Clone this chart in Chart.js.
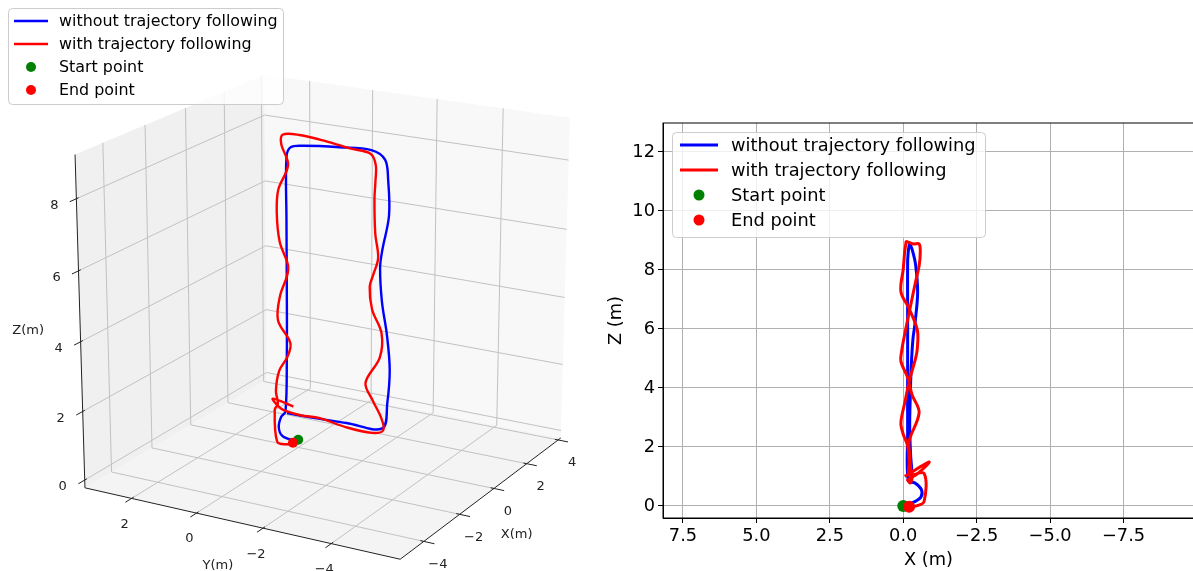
<!DOCTYPE html>
<html>
<head>
<meta charset="utf-8">
<script src="https://cdn.jsdelivr.net/npm/chart.js@4.4.1/dist/chart.umd.min.js"></script>
<style>
  html, body { margin: 0; padding: 0; background: #fff; overflow: hidden; }
  #wrap { position: relative; width: 1193px; height: 571px; overflow: hidden; }
  canvas { position: absolute; top: 0; }
  #c3d { left: 0; }
  #c2d { left: 600px; }
</style>
</head>
<body>
<div id="wrap">
  <canvas id="c3d" width="600" height="571"></canvas>
  <canvas id="c2d" width="600" height="571"></canvas>
</div>
<script>
// trajectory without trajectory following (metres)
var blueX = [0, -0.3, -0.6, -0.62, -0.4, -0.17, -0.15, -0.15, -0.15, -0.15, -0.17, -0.18, -0.2, -0.22,
  -0.3, -0.42, -0.49, -0.4, -0.33, -0.27, -0.24, -0.22, -0.25, -0.3, -0.25, -0.2, -0.17];
var blueY = [0, 0.02, 0.15, 0.25, 0.3, 0.3, 0.26, 0.25, 0.25, 0.24, 0.1, -0.3, -1.4, -2.35,
  -2.8, -2.96, -3.03, -2.79, -2.69, -2.72, -2.86, -2.94, -2.89, -2.77, -1.65, -0.6, 0.25];
var blueZ = [0, 0.1, 0.3, 0.55, 0.78, 0.85, 2.5, 4.5, 6.5, 8.3, 8.6, 8.7, 8.82, 8.88,
  8.7, 8.18, 7.23, 6.19, 5.65, 4.67, 3.72, 2.72, 1.75, 1.0, 0.92, 0.85, 0.82];

// trajectory with trajectory following (metres)
var redX = [-0.05, -0.88, -0.5, -0.15, -0.2, -0.2, -0.22, -0.25, -0.3,
  -0.25, -0.22, -0.2, -0.54, -0.3, -0.15, 0.08, 0.05, -0.05, -0.2, -0.42, -0.54, -0.58,
  -0.54, -0.35, -0.2, -0.1, -0.09, -0.05,
  0.0, 0.08, -0.2, -0.48, -0.48, -0.42, -0.22, -0.05, 0.08, 0.0, -0.15, -0.2, -0.2,
  -0.71, -0.71, -0.45, -0.2];
var redY = [0.12, 0.28, 0.3, 0.37, -0.19, -0.79, -1.6, -2.42, -2.8,
  -2.7, -2.43, -2.2, -2.81, -2.73, -2.36, -2.16, -2.28, -2.48, -2.47, -2.56, -2.65, -2.68,
  -2.51, -1.79, -1.0, -0.13, 0.38, 0.46,
  0.28, 0.63, 0.52, 0.27, 0.02, 0.08, 0.42, 0.59, 0.28, 0.33, 0.5, 0.58, 0.52,
  0.32, 0.25, 0.12, 0.05];
var redZ = [1.0, 1.49, 1.1, 0.88, 0.85, 0.88, 0.78, 0.78, 0.95,
  1.3, 1.73, 2.2, 3.16, 3.77, 4.35, 4.9, 5.27, 5.82, 6.55, 7.6, 8.13, 8.6,
  8.88, 8.88, 8.93, 8.96, 8.9, 8.62,
  8.03, 7.26, 6.69, 5.96, 5.34, 5.0, 4.29, 3.49, 2.82, 2.43, 2.04, 1.44, 1.05,
  1.1, 0.15, 0.0, -0.03];

var startPoint = [0, 0, 0];
var endPoint = [-0.2, 0.05, -0.03];

// 3D axes
var xLim3d = [-5.27, 4.17];
var yLim3d = [-5.97, 3.47];
var zLim3d = [-0.23, 9.21];
var xTicks3d = [-4, -2, 0, 2, 4];
var yTicks3d = [-4, -2, 0, 2];
var zTicks3d = [0, 2, 4, 6, 8];

// 2D axes (X inverted)
var xLim2d = [-9.9, 8.18];
var zLim2d = [-0.41, 12.98];
var xTicks2d = [7.5, 5.0, 2.5, 0.0, -2.5, -5.0, -7.5];
var xTickLabels2d = ["7.5", "5.0", "2.5", "0.0", "\u22122.5", "\u22125.0", "\u22127.5"];
var zTicks2d = [0, 2, 4, 6, 8, 10, 12];

Chart.defaults.font.family = "'DejaVu Sans', 'Liberation Sans', sans-serif";
Chart.defaults.color = "#000";

// camera of the 3D view
var view = { elev: 18.8, azim: -150.6, dist: 16, scale: 181, cx: 328.6, cy: 302.5, hz: 0.97 };

function project(x, y, z) {
  var mx = (xLim3d[0] + xLim3d[1]) / 2, rx = (xLim3d[1] - xLim3d[0]) / 2;
  var my = (yLim3d[0] + yLim3d[1]) / 2, ry = (yLim3d[1] - yLim3d[0]) / 2;
  var mz = (zLim3d[0] + zLim3d[1]) / 2, rz = (zLim3d[1] - zLim3d[0]) / 2;
  var X = (x - mx) / rx, Y = (y - my) / ry, Z = (z - mz) / rz * view.hz;
  var a = view.azim * Math.PI / 180, e = view.elev * Math.PI / 180;
  var sx = X * -Math.sin(a) + Y * Math.cos(a);
  var sy = X * (-Math.sin(e) * Math.cos(a)) + Y * (-Math.sin(e) * Math.sin(a)) + Z * Math.cos(e);
  var pe = X * Math.cos(e) * Math.cos(a) + Y * Math.cos(e) * Math.sin(a) + Z * Math.sin(e);
  var sc = view.dist / (view.dist - pe);
  return { x: view.cx + view.scale * sc * sx, y: view.cy - view.scale * sc * sy };
}

function fmt(v) {
  return v < 0 ? "\u2212" + Math.abs(v) : String(v);
}

// legend drawn inside the plot like matplotlib
function legendPlugin(box) {
  return {
    id: "mplLegend" + box.x,
    afterDraw: function (chart) {
      var ctx = chart.ctx;
      ctx.save();
      ctx.beginPath();
      ctx.roundRect(box.x + 0.5, box.y + 0.5, box.w, box.h, 4);
      ctx.fillStyle = "rgba(255,255,255,0.8)";
      ctx.fill();
      ctx.strokeStyle = "#cccccc";
      ctx.lineWidth = 1;
      ctx.stroke();
      chart.data.datasets.forEach(function (ds, i) {
        var cy = box.rowY + i * box.rowH;
        if (ds.showLine) {
          ctx.beginPath();
          ctx.moveTo(box.lineX0, cy);
          ctx.lineTo(box.lineX1, cy);
          ctx.strokeStyle = ds.borderColor;
          ctx.lineWidth = box.lw;
          ctx.stroke();
        } else {
          ctx.beginPath();
          ctx.arc((box.lineX0 + box.lineX1) / 2, cy, box.r, 0, Math.PI * 2);
          ctx.fillStyle = ds.backgroundColor;
          ctx.fill();
        }
        ctx.fillStyle = "#000";
        ctx.font = box.fontSize + "px 'DejaVu Sans'";
        ctx.textAlign = "left";
        ctx.textBaseline = "middle";
        ctx.fillText(ds.label, box.textX, cy + 1);
      });
      ctx.restore();
    }
  };
}

// panes, grid, axes of the 3D box
var axes3dPlugin = {
  id: "axes3d",
  beforeDatasetsDraw: function (chart) {
    var ctx = chart.ctx, sx = chart.scales.x, sy = chart.scales.y;
    var P = function (x, y, z) {
      var p = project(x, y, z);
      return [sx.getPixelForValue(p.x), sy.getPixelForValue(p.y)];
    };
    var x0 = xLim3d[0], x1 = xLim3d[1], y0 = yLim3d[0], y1 = yLim3d[1], z0 = zLim3d[0], z1 = zLim3d[1];
    function poly(pts, color) {
      ctx.beginPath();
      ctx.moveTo(pts[0][0], pts[0][1]);
      for (var i = 1; i < pts.length; i++) ctx.lineTo(pts[i][0], pts[i][1]);
      ctx.closePath();
      ctx.fillStyle = color;
      ctx.fill();
    }
    function seg(a, b, color, w) {
      ctx.beginPath();
      ctx.moveTo(a[0], a[1]);
      ctx.lineTo(b[0], b[1]);
      ctx.strokeStyle = color;
      ctx.lineWidth = w;
      ctx.stroke();
    }
    ctx.save();
    poly([P(x0, y0, z0), P(x1, y0, z0), P(x1, y1, z0), P(x0, y1, z0)], "#f4f4f4");
    poly([P(x0, y1, z0), P(x1, y1, z0), P(x1, y1, z1), P(x0, y1, z1)], "#f0f0f0");
    poly([P(x1, y0, z0), P(x1, y1, z0), P(x1, y1, z1), P(x1, y0, z1)], "#f8f8f8");

    var g = "#c2c2c2";
    xTicks3d.forEach(function (x) {
      seg(P(x, y0, z0), P(x, y1, z0), g, 1);
      seg(P(x, y1, z0), P(x, y1, z1), g, 1);
    });
    yTicks3d.forEach(function (y) {
      seg(P(x0, y, z0), P(x1, y, z0), g, 1);
      seg(P(x1, y, z0), P(x1, y, z1), g, 1);
    });
    zTicks3d.forEach(function (z) {
      seg(P(x0, y1, z), P(x1, y1, z), g, 1);
      seg(P(x1, y0, z), P(x1, y1, z), g, 1);
    });

    // axis lines
    seg(P(x0, y1, z0), P(x0, y1, z1), "#222", 1);
    seg(P(x0, y1, z0), P(x0, y0, z0), "#222", 1);
    seg(P(x0, y0, z0), P(x1, y0, z0), "#222", 1);

    ctx.fillStyle = "#222";
    ctx.font = "13px 'DejaVu Sans'";
    ctx.textAlign = "center";
    ctx.textBaseline = "middle";
    zTicks3d.forEach(function (z) {
      seg(P(x0 - 0.3, y1, z), P(x0 + 0.1, y1, z), "#222", 1);
      var p = P(x0, y1, z);
      ctx.fillText(fmt(z), p[0] - 22, p[1] + 7);
    });
    yTicks3d.forEach(function (y) {
      seg(P(x0 - 0.3, y, z0), P(x0 + 0.1, y, z0), "#222", 1);
      var p = P(x0, y, z0);
      ctx.fillText(fmt(y), p[0] - 7, p[1] + 26);
    });
    xTicks3d.forEach(function (x) {
      seg(P(x, y0 - 0.3, z0), P(x, y0 + 0.1, z0), "#222", 1);
      var p = P(x, y0, z0);
      ctx.fillText(fmt(x), p[0] + 14, p[1] + 23);
    });
    var pz = P(x0, y1, (z0 + z1) / 2);
    ctx.fillText("Z(m)", pz[0] - 52, pz[1] + 6);
    var py = P(x0, (y0 + y1) / 2, z0);
    ctx.fillText("Y(m)", py[0] - 20, py[1] + 43);
    var px = P((x0 + x1) / 2, y0, z0);
    ctx.fillText("X(m)", px[0] + 32, px[1] + 39);
    ctx.restore();
  }
};

function path3d(xs, ys, zs) {
  return xs.map(function (x, i) { return project(x, ys[i], zs[i]); });
}

var labels = ["without trajectory following", "with trajectory following", "Start point", "End point"];

new Chart(document.getElementById("c3d").getContext("2d"), {
  type: "scatter",
  data: {
    datasets: [
      { label: labels[0], data: path3d(blueX, blueY, blueZ), showLine: true, borderColor: "#0000ff",
        borderWidth: 2.4, pointRadius: 0, tension: 0.35, order: 3 },
      { label: labels[1], data: path3d(redX, redY, redZ), showLine: true, borderColor: "#ff0000",
        borderWidth: 2.4, pointRadius: 0, tension: 0.35, order: 2 },
      { label: labels[2], data: [project(startPoint[0], startPoint[1], startPoint[2])], backgroundColor: "#008000",
        borderColor: "#008000", pointRadius: 5, borderWidth: 0, order: 1 },
      { label: labels[3], data: [project(endPoint[0], endPoint[1], endPoint[2])], backgroundColor: "#ff0000",
        borderColor: "#ff0000", pointRadius: 5, borderWidth: 0, order: 0 }
    ]
  },
  options: {
    responsive: false,
    animation: false,
    layout: { padding: 0 },
    plugins: { legend: { display: false }, tooltip: { enabled: false } },
    scales: {
      x: { type: "linear", min: 0, max: 600, display: false },
      y: { type: "linear", min: 0, max: 571, reverse: true, display: false }
    }
  },
  plugins: [axes3dPlugin, legendPlugin({ x: 8, y: 8, w: 275, h: 96, rowY: 21, rowH: 23, lineX0: 14, lineX1: 48,
    textX: 59, fontSize: 15.9, lw: 2.5, r: 5 })]
});

// top spine of the 2D plot
var framePlugin = {
  id: "frame",
  afterDatasetsDraw: function (chart) {
    var a = chart.chartArea, ctx = chart.ctx;
    ctx.save();
    ctx.strokeStyle = "#000";
    ctx.lineWidth = 1;
    ctx.strokeRect(a.left, a.top, a.right - a.left, a.bottom - a.top);
    ctx.restore();
  }
};

function xz(xs, zs) {
  return xs.map(function (x, i) { return { x: x, y: zs[i] }; });
}

new Chart(document.getElementById("c2d").getContext("2d"), {
  type: "scatter",
  data: {
    datasets: [
      { label: labels[0], data: xz(blueX, blueZ), showLine: true, borderColor: "#0000ff",
        borderWidth: 3, pointRadius: 0, tension: 0.35, order: 3 },
      { label: labels[1], data: xz(redX, redZ), showLine: true, borderColor: "#ff0000",
        borderWidth: 3, pointRadius: 0, tension: 0.35, order: 2 },
      { label: labels[2], data: [{ x: startPoint[0], y: startPoint[2] }], backgroundColor: "#008000",
        borderColor: "#008000", pointRadius: 6, borderWidth: 0, order: 1 },
      { label: labels[3], data: [{ x: endPoint[0], y: endPoint[2] }], backgroundColor: "#ff0000",
        borderColor: "#ff0000", pointRadius: 6, borderWidth: 0, order: 0 }
    ]
  },
  options: {
    responsive: false,
    animation: false,
    layout: { padding: { top: 123, right: 4, left: 0, bottom: 0 } },
    plugins: { legend: { display: false }, tooltip: { enabled: false } },
    scales: {
      x: {
        type: "linear", reverse: true, min: xLim2d[0], max: xLim2d[1],
        afterBuildTicks: function (s) { s.ticks = xTicks2d.map(function (v) { return { value: v }; }); },
        afterFit: function (s) { s.height = 53; },
        ticks: {
          autoSkip: false, maxRotation: 0, padding: 3, color: "#000", font: { size: 17.8 },
          callback: function (v) { return xTickLabels2d[xTicks2d.indexOf(v)]; }
        },
        grid: { color: "#b0b0b0", lineWidth: 1, tickColor: "#000", tickLength: 5 },
        border: { color: "#000", width: 1 },
        title: { display: true, text: "X (m)", color: "#000", font: { size: 17.8 }, padding: { top: 0, bottom: 0 } }
      },
      y: {
        type: "linear", min: zLim2d[0], max: zLim2d[1],
        afterBuildTicks: function (s) { s.ticks = zTicks2d.map(function (v) { return { value: v }; }); },
        afterFit: function (s) { s.width = 63; },
        ticks: { autoSkip: false, padding: 3, color: "#000", font: { size: 17.8 } },
        grid: { color: "#b0b0b0", lineWidth: 1, tickColor: "#000", tickLength: 5 },
        border: { color: "#000", width: 1 },
        title: { display: true, text: "Z (m)", color: "#000", font: { size: 17.8 }, padding: { top: 6, bottom: 0 } }
      }
    }
  },
  plugins: [framePlugin, legendPlugin({ x: 72, y: 132, w: 313, h: 105, rowY: 145, rowH: 25, lineX0: 80, lineX1: 118,
    textX: 131, fontSize: 17.8, lw: 3, r: 5.5 })]
});
</script>
</body>
</html>
